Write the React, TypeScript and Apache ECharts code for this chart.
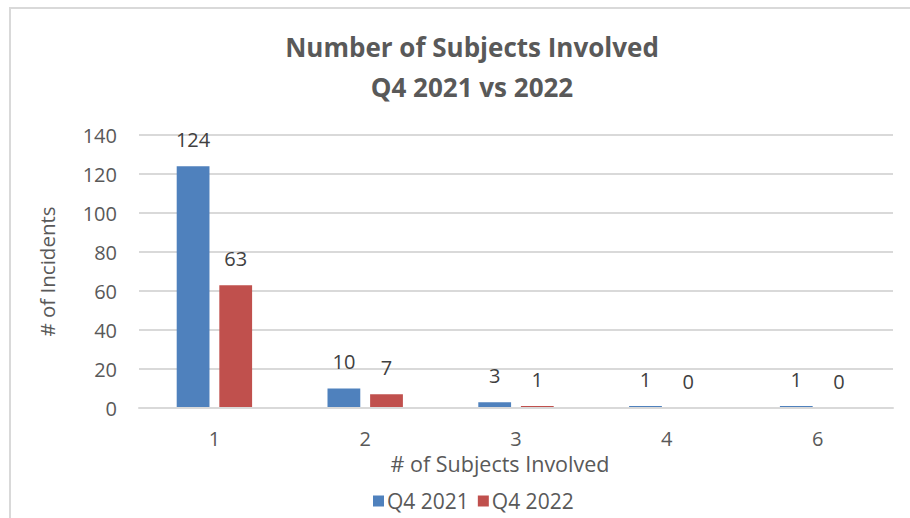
import React, { useEffect, useRef } from "react";
import * as echarts from "echarts";

const categories = ["1", "2", "3", "4", "6"];
const q4_2021 = [124, 10, 3, 1, 1];
const q4_2022 = [63, 7, 1, 0, 0];
const seriesNames = ["Q4 2021", "Q4 2022"];
const titleLines = ["Number of Subjects Involved", "Q4 2021 vs 2022"];

const FONT = "'Open Sans', 'Noto Sans', sans-serif";
const GREY = "#595959";

export default function App() {
  const ref = useRef<HTMLDivElement>(null);
  useEffect(() => {
    if (!ref.current) return;
    const chart = echarts.init(ref.current, undefined, { renderer: "svg" });
    const label = {
      show: true,
      position: "top" as const,
      distance: 17,
      color: "#404040",
      fontSize: 20,
      fontFamily: FONT,
    };
    chart.setOption({
      animation: false,
      backgroundColor: "#ffffff",
      textStyle: { fontFamily: FONT },
      title: {
        text: titleLines.join("\n"),
        left: 467,
        textAlign: "center",
        top: 22,
        textStyle: {
          fontFamily: FONT,
          fontSize: 26,
          fontWeight: "bold",
          color: GREY,
          lineHeight: 40,
        },
      },
      graphic: [
        {
          type: "rect",
          shape: { x: 10, y: 8, width: 920, height: 540 },
          style: { fill: "none", stroke: "#d9d9d9", lineWidth: 2 },
          silent: true,
        },
      ],
      legend: {
        data: seriesNames,
        left: 368,
        top: 485,
        itemWidth: 11,
        itemHeight: 11,
        itemGap: 9,
        icon: "rect",
        textStyle: {
          fontFamily: FONT,
          fontSize: 21,
          lineHeight: 22,
          color: GREY,
          padding: [0, 0, 0, -2],
        },
      },
      grid: { left: 139, right: 17, top: 135, bottom: 110, containLabel: false },
      xAxis: {
        type: "category",
        data: categories,
        z: 3,
        name: "# of Subjects Involved",
        nameLocation: "middle",
        nameGap: 42,
        nameTextStyle: { fontFamily: FONT, fontSize: 21.5, color: GREY, padding: [0, 32, 0, 0] },
        axisLine: { show: true, lineStyle: { color: "#d9d9d9", width: 2 } },
        axisTick: { show: false },
        axisLabel: { margin: 20, fontSize: 20, color: GREY, fontFamily: FONT },
      },
      yAxis: {
        type: "value",
        min: 0,
        max: 140,
        interval: 20,
        name: "# of Incidents",
        nameLocation: "middle",
        nameGap: 82,
        nameTextStyle: { fontFamily: FONT, fontSize: 20.5, color: GREY },
        axisLine: { show: false },
        axisTick: { show: false },
        axisLabel: { margin: 22, fontSize: 20, color: GREY, fontFamily: FONT },
        splitLine: { lineStyle: { color: "#d9d9d9", width: 2 } },
      },
      series: [
        {
          name: seriesNames[0],
          type: "bar",
          data: q4_2021,
          itemStyle: { color: "#4f81bd" },
          barGap: "30%",
          barCategoryGap: "50%",
          label,
        },
        {
          name: seriesNames[1],
          type: "bar",
          data: q4_2022,
          itemStyle: { color: "#c0504d" },
          barGap: "30%",
          barCategoryGap: "50%",
          label,
        },
      ],
    });
    return () => chart.dispose();
  }, []);
  return (
    <div
      ref={ref}
      style={{ position: "fixed", left: 0, top: 0, width: 910, height: 518 }}
    />
  );
}
